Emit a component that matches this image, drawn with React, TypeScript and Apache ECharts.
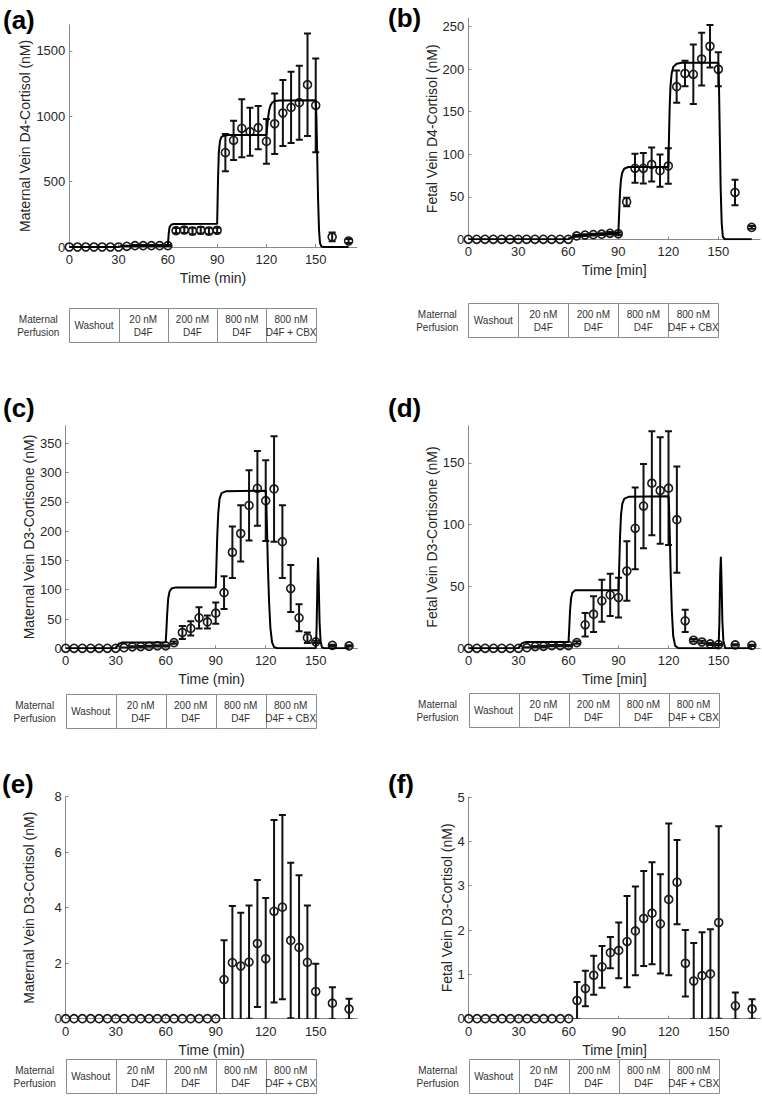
import React, { useEffect, useRef } from 'react';
import * as echarts from 'echarts';

// ---------- DATA ----------
const TIMES = [0, 5, 10, 15, 20, 25, 30, 35, 40, 45, 50, 55, 60, 65, 70, 75, 80, 85, 90, 95, 100, 105, 110, 115, 120, 125, 130, 135, 140, 145, 150, 160, 170];

const PHASE_EDGES = [0, 30, 60, 90, 120, 150];
const PHASE_LABELS = ['Washout', '20 nM\nD4F', '200 nM\nD4F', '800 nM\nD4F', '800 nM\nD4F + CBX'];
const ROW_LABEL = 'Maternal\nPerfusion';

// (a) Maternal vein D4-cortisol
const A_MEAN = [0, 0, 0, 0, 0, 0, 0, 5, 10, 10, 10, 10, 10, 125, 130, 122, 128, 122, 128, 722, 816, 908, 882, 913, 808, 943, 1025, 1068, 1104, 1242, 1084, 77, 46];
const A_SD = [0, 0, 0, 0, 0, 0, 0, 3, 5, 5, 5, 5, 5, 20, 22, 25, 25, 25, 20, 142, 150, 222, 184, 166, 171, 232, 253, 273, 283, 392, 359, 33, 15];
const A_MODEL = [[0, 0], [30, 0], [31, 5], [34, 9], [60, 10], [60.5, 100], [61, 150], [62, 170], [63.5, 176], [90, 177], [90.5, 500], [91, 720], [91.7, 810], [92.5, 840], [94, 852], [97, 856], [120, 857], [120.5, 920], [121, 990], [121.7, 1050], [122.5, 1085], [123.5, 1105], [125, 1117], [128, 1121], [150, 1122], [150.4, 1000], [150.9, 700], [151.4, 380], [152, 130], [152.6, 30], [153.5, 3], [155, 0], [170, 0]];

// (b) Fetal vein D4-cortisol
const B_MEAN = [0, 0, 0, 0, 0, 0, 0, 0, 0, 0, 0, 0, 0, 4, 5, 5.5, 6, 7, 6.5, 44, 83.5, 83.5, 88, 80.7, 86.2, 179.5, 195, 194, 212, 227, 200, 55, 14];
const B_SD = [0, 0, 0, 0, 0, 0, 0, 0, 0, 0, 0, 0, 0, 1, 1, 1, 1, 1.5, 1.5, 5, 17, 18, 20, 19, 21, 19, 15, 35, 31, 25, 20, 15, 1.6];
const B_MODEL = [[0, 0], [60, 0], [61, 1.5], [63, 3], [66, 4.5], [72, 5.5], [80, 6.3], [90, 7], [90.5, 30], [91, 55], [91.6, 70], [92.3, 78], [93.5, 83], [96, 85], [120, 85], [120.4, 120], [120.8, 155], [121.3, 180], [122, 195], [123, 203], [125, 206.5], [128, 207.5], [150, 207.5], [150.4, 180], [150.9, 120], [151.4, 60], [152, 20], [152.7, 3], [154, 0], [170, 0]];

// (c) Maternal vein D3-cortisone
const C_MEAN = [0, 0, 0, 0, 0, 0, 0, 1, 2.5, 3, 3.5, 4, 4, 9.7, 27, 34, 52, 45, 60, 95, 164, 196, 244, 273, 252, 272, 182, 102, 52, 18, 11, 5, 4];
const C_SD = [0, 0, 0, 0, 0, 0, 0, 0.5, 1, 1, 1, 1, 1, 2, 11, 12, 18, 11, 18, 28, 44, 48, 60, 64, 69, 90, 62, 40, 23, 9, 2, 1, 1];
const C_MODEL = [[0, 0], [30, 0], [31, 4], [32, 8], [34, 10], [60, 10.5], [60.4, 30], [60.9, 60], [61.5, 85], [62.3, 97], [63.5, 102], [66, 104], [90, 104], [90.4, 140], [90.9, 190], [91.5, 230], [92.3, 255], [93.5, 265], [96, 268], [120, 269], [120.3, 255], [120.8, 200], [121.3, 140], [122, 80], [122.8, 35], [123.8, 10], [125, 2], [127, 0], [150, 0], [150.5, 30], [151, 110], [151.4, 155], [151.8, 110], [152.3, 45], [152.9, 12], [153.7, 2], [155, 0], [170, 0]];

// (d) Fetal vein D3-cortisone
const D_MEAN = [0, 0, 0, 0, 0, 0, 0, 0.5, 1.4, 1.6, 2.2, 2.2, 2.2, 4.6, 19, 27.6, 38.4, 43.2, 41, 62.5, 97, 115, 133.5, 127.6, 129.5, 104, 22.2, 6.5, 5.1, 3.5, 3, 2.7, 2.4];
const D_SD = [0, 0, 0, 0, 0, 0, 0, 0.3, 0.5, 0.5, 0.5, 0.5, 0.5, 1, 9.5, 14.5, 17, 17, 16, 24, 33, 34, 42, 43, 46, 43, 9, 1, 1, 0.8, 0.5, 0.5, 0.5];
const D_MODEL = [[0, 0], [30, 0], [31, 2], [32, 4], [34, 5], [60, 5], [60.4, 15], [60.9, 30], [61.5, 40], [62.3, 45], [64, 47], [90, 47], [90.4, 65], [90.9, 90], [91.5, 108], [92.3, 117], [93.5, 121], [96, 122.5], [120, 123], [120.3, 115], [120.8, 90], [121.3, 60], [122, 30], [122.8, 10], [124, 2], [126, 0], [150, 0], [150.5, 20], [151, 60], [151.4, 74], [151.8, 55], [152.3, 22], [152.9, 6], [154, 0], [170, 0]];

// (e) Maternal vein D3-cortisol
const E_MEAN = [0, 0, 0, 0, 0, 0, 0, 0, 0, 0, 0, 0, 0, 0, 0, 0, 0, 0, 0, 1.41, 2.02, 1.9, 2.04, 2.71, 2.16, 3.87, 4.02, 2.82, 2.57, 2.03, 0.98, 0.56, 0.35];
const E_SD = [0, 0, 0, 0, 0, 0, 0, 0, 0, 0, 0, 0, 0, 0, 0, 0, 0, 0, 0, 1.42, 2.04, 1.92, 2.04, 2.29, 2.19, 3.29, 3.32, 2.8, 2.6, 2.05, 1.0, 0.57, 0.37];

// (f) Fetal vein D3-cortisol
const F_MEAN = [0, 0, 0, 0, 0, 0, 0, 0, 0, 0, 0, 0, 0, 0.41, 0.68, 0.98, 1.17, 1.49, 1.54, 1.74, 1.98, 2.26, 2.38, 2.14, 2.69, 3.08, 1.25, 0.85, 0.97, 1.01, 2.17, 0.29, 0.22];
const F_SD = [0, 0, 0, 0, 0, 0, 0, 0, 0, 0, 0, 0, 0, 0.42, 0.4, 0.44, 0.47, 0.35, 0.63, 1.03, 1.0, 1.07, 1.15, 1.12, 1.71, 0.95, 0.75, 0.86, 0.98, 1.01, 2.17, 0.3, 0.22];

const X_MAX = 175;
const X_INTERVAL = 30;

// ---------- LAYOUT ----------
const PANELS = [
  { tag: '(a)', yName: 'Maternal Vein D4-Cortisol (nM)', xName: 'Time (min)', ymax: 1700, yint: 500, mean: A_MEAN, sd: A_SD, model: A_MODEL,
    left: 69.3, top: 24.8, width: 287.5, height: 222.2, yGap: 34, tagX: 3, tagY: 20, tableTop: 308 },
  { tag: '(b)', yName: 'Fetal Vein D4-Cortisol (nM)', xName: 'Time [min]', ymax: 260, yint: 50, mean: B_MEAN, sd: B_SD, model: B_MODEL,
    left: 468.3, top: 18.2, width: 291.7, height: 221.1, yGap: 29, tagX: 388, tagY: 17.5, tableTop: 303 },
  { tag: '(c)', yName: 'Maternal Vein D3-Cortisone (nM)', xName: 'Time (min)', ymax: 380, yint: 50, mean: C_MEAN, sd: C_SD, model: C_MODEL,
    left: 65.7, top: 425.7, width: 291.7, height: 222.6, yGap: 29, tagX: 3, tagY: 408, tableTop: 694 },
  { tag: '(d)', yName: 'Fetal Vein D3-Cortisone (nM)', xName: 'Time [min]', ymax: 180, yint: 50, mean: D_MEAN, sd: D_SD, model: D_MODEL,
    left: 468.5, top: 425.7, width: 291.7, height: 222.6, yGap: 27, tagX: 388, tagY: 408, tableTop: 693 },
  { tag: '(e)', yName: 'Maternal Vein D3-Cortisol (nM)', xName: 'Time (min)', ymax: 8, yint: 2, mean: E_MEAN, sd: E_SD, model: null,
    left: 65.7, top: 796.7, width: 291.7, height: 222, yGap: 30, tagX: 2, tagY: 784, tableTop: 1059 },
  { tag: '(f)', yName: 'Fetal Vein D3-Cortisol (nM)', xName: 'Time [min]', ymax: 5, yint: 1, mean: F_MEAN, sd: F_SD, model: null,
    left: 468.7, top: 797, width: 291.7, height: 221.7, yGap: 14, tagX: 388, tagY: 783.5, tableTop: 1059 },
];

const FONT = '"Liberation Sans", Arial, Helvetica, sans-serif';
const AXIS_COLOR = '#8a8a8a';
const TEXT_COLOR = '#262626';

function errorBarItem(params: any, api: any) {
  const x = api.value(0);
  const lo = api.value(1);
  const hi = api.value(2);
  if (hi - lo <= 0) return null;
  const a = api.coord([x, hi]);
  const b = api.coord([x, lo]);
  const hw = 3.5;
  const style = { stroke: '#111', lineWidth: 2, fill: 'none' };
  return {
    type: 'group',
    children: [
      { type: 'line', shape: { x1: a[0], y1: a[1], x2: b[0], y2: b[1] }, style },
      { type: 'line', shape: { x1: a[0] - hw, y1: a[1], x2: a[0] + hw, y2: a[1] }, style },
      { type: 'line', shape: { x1: b[0] - hw, y1: b[1], x2: b[0] + hw, y2: b[1] }, style },
    ],
  };
}

const plainNumber = (v: number) => String(v);

function buildOption() {
  const grid: any[] = [];
  const xAxis: any[] = [];
  const yAxis: any[] = [];
  const series: any[] = [];
  const elements: any[] = [];

  PANELS.forEach((p, i) => {
    grid.push({ left: p.left, top: p.top, width: p.width, height: p.height, containLabel: false, outerBoundsMode: 'none' });
    xAxis.push({
      type: 'value', gridIndex: i, min: 0, max: X_MAX, interval: X_INTERVAL,
      axisLine: { show: true, onZero: false, lineStyle: { color: AXIS_COLOR, width: 1 } },
      axisTick: { show: true, inside: true, length: 3, lineStyle: { color: AXIS_COLOR } },
      axisLabel: { show: true, color: TEXT_COLOR, fontSize: 13, fontFamily: FONT, margin: 6, showMaxLabel: false, showMinLabel: true, formatter: plainNumber },
      splitLine: { show: false },
      name: p.xName, nameLocation: 'middle', nameGap: 24,
      nameTextStyle: { fontSize: 14, color: TEXT_COLOR, fontFamily: FONT },
    });
    yAxis.push({
      type: 'value', gridIndex: i, min: 0, max: p.ymax, interval: p.yint,
      axisLine: { show: true, onZero: false, lineStyle: { color: AXIS_COLOR, width: 1 } },
      axisTick: { show: true, inside: true, length: 3, lineStyle: { color: AXIS_COLOR } },
      axisLabel: { show: true, color: TEXT_COLOR, fontSize: 13, fontFamily: FONT, margin: 4, showMaxLabel: p.ymax % p.yint === 0, showMinLabel: true, formatter: plainNumber },
      splitLine: { show: false },
      name: p.yName, nameLocation: 'middle', nameGap: p.yGap,
      nameTextStyle: { fontSize: 14, color: TEXT_COLOR, fontFamily: FONT },
    });

    series.push({
      type: 'custom', xAxisIndex: i, yAxisIndex: i, silent: true, clip: true, z: 3,
      data: TIMES.map((t, k) => [t, p.mean[k] - p.sd[k], p.mean[k] + p.sd[k]]),
      encode: { x: 0, y: [1, 2] },
      renderItem: errorBarItem,
    });
    series.push({
      type: 'scatter', xAxisIndex: i, yAxisIndex: i, silent: true, clip: false, z: 4,
      data: TIMES.map((t, k) => [t, p.mean[k]]),
      symbol: 'circle', symbolSize: 8,
      itemStyle: { color: 'rgba(0,0,0,0)', borderColor: '#1a1a1a', borderWidth: 1.6, opacity: 1 },
    });
    if (p.model) {
      series.push({
        type: 'line', xAxisIndex: i, yAxisIndex: i, silent: true, z: 5,
        data: p.model, showSymbol: false, symbol: 'none',
        lineStyle: { color: '#000', width: 2 },
      });
    }

    // panel tag
    elements.push({
      type: 'text', x: p.tagX, y: p.tagY, silent: true,
      style: { text: p.tag, x: 0, y: 0, fill: '#000', fontSize: 26, fontWeight: 'bold', fontFamily: FONT, align: 'left', verticalAlign: 'middle' },
    });

    // perfusion table
    const pxPerMin = p.width / X_MAX;
    const rowH = 34;
    for (let c = 0; c < PHASE_LABELS.length; c++) {
      const x0 = p.left + PHASE_EDGES[c] * pxPerMin;
      const x1 = p.left + PHASE_EDGES[c + 1] * pxPerMin;
      elements.push({
        type: 'rect', silent: true,
        shape: { x: Math.round(x0) + 0.5, y: Math.round(p.tableTop) + 0.5, width: Math.round(x1) - Math.round(x0), height: rowH },
        style: { fill: '#fff', stroke: '#8c8c8c', lineWidth: 1 },
      });
      elements.push({
        type: 'text', silent: true, x: (x0 + x1) / 2, y: p.tableTop + rowH / 2 + 0.5,
        style: { text: PHASE_LABELS[c], fill: '#333', fontSize: 10, fontFamily: FONT, align: 'center', verticalAlign: 'middle', lineHeight: 13 },
      });
    }
    elements.push({
      type: 'text', silent: true, x: p.left - 31, y: p.tableTop + rowH / 2 + 0.5,
      style: { text: ROW_LABEL, fill: '#333', fontSize: 10, fontFamily: FONT, align: 'center', verticalAlign: 'middle', lineHeight: 13 },
    });
  });

  return {
    animation: false,
    backgroundColor: '#ffffff',
    grid, xAxis, yAxis, series,
    graphic: { elements },
  };
}

export default function App() {
  const ref = useRef<HTMLDivElement>(null);
  useEffect(() => {
    document.body.style.margin = '0';
    if (!ref.current) return;
    const chart = echarts.init(ref.current, null, { renderer: 'svg' });
    chart.setOption(buildOption() as any);
    return () => chart.dispose();
  }, []);
  return <div ref={ref} style={{ position: 'absolute', left: 0, top: 0, width: 762, height: 1101, background: '#fff' }} />;
}
